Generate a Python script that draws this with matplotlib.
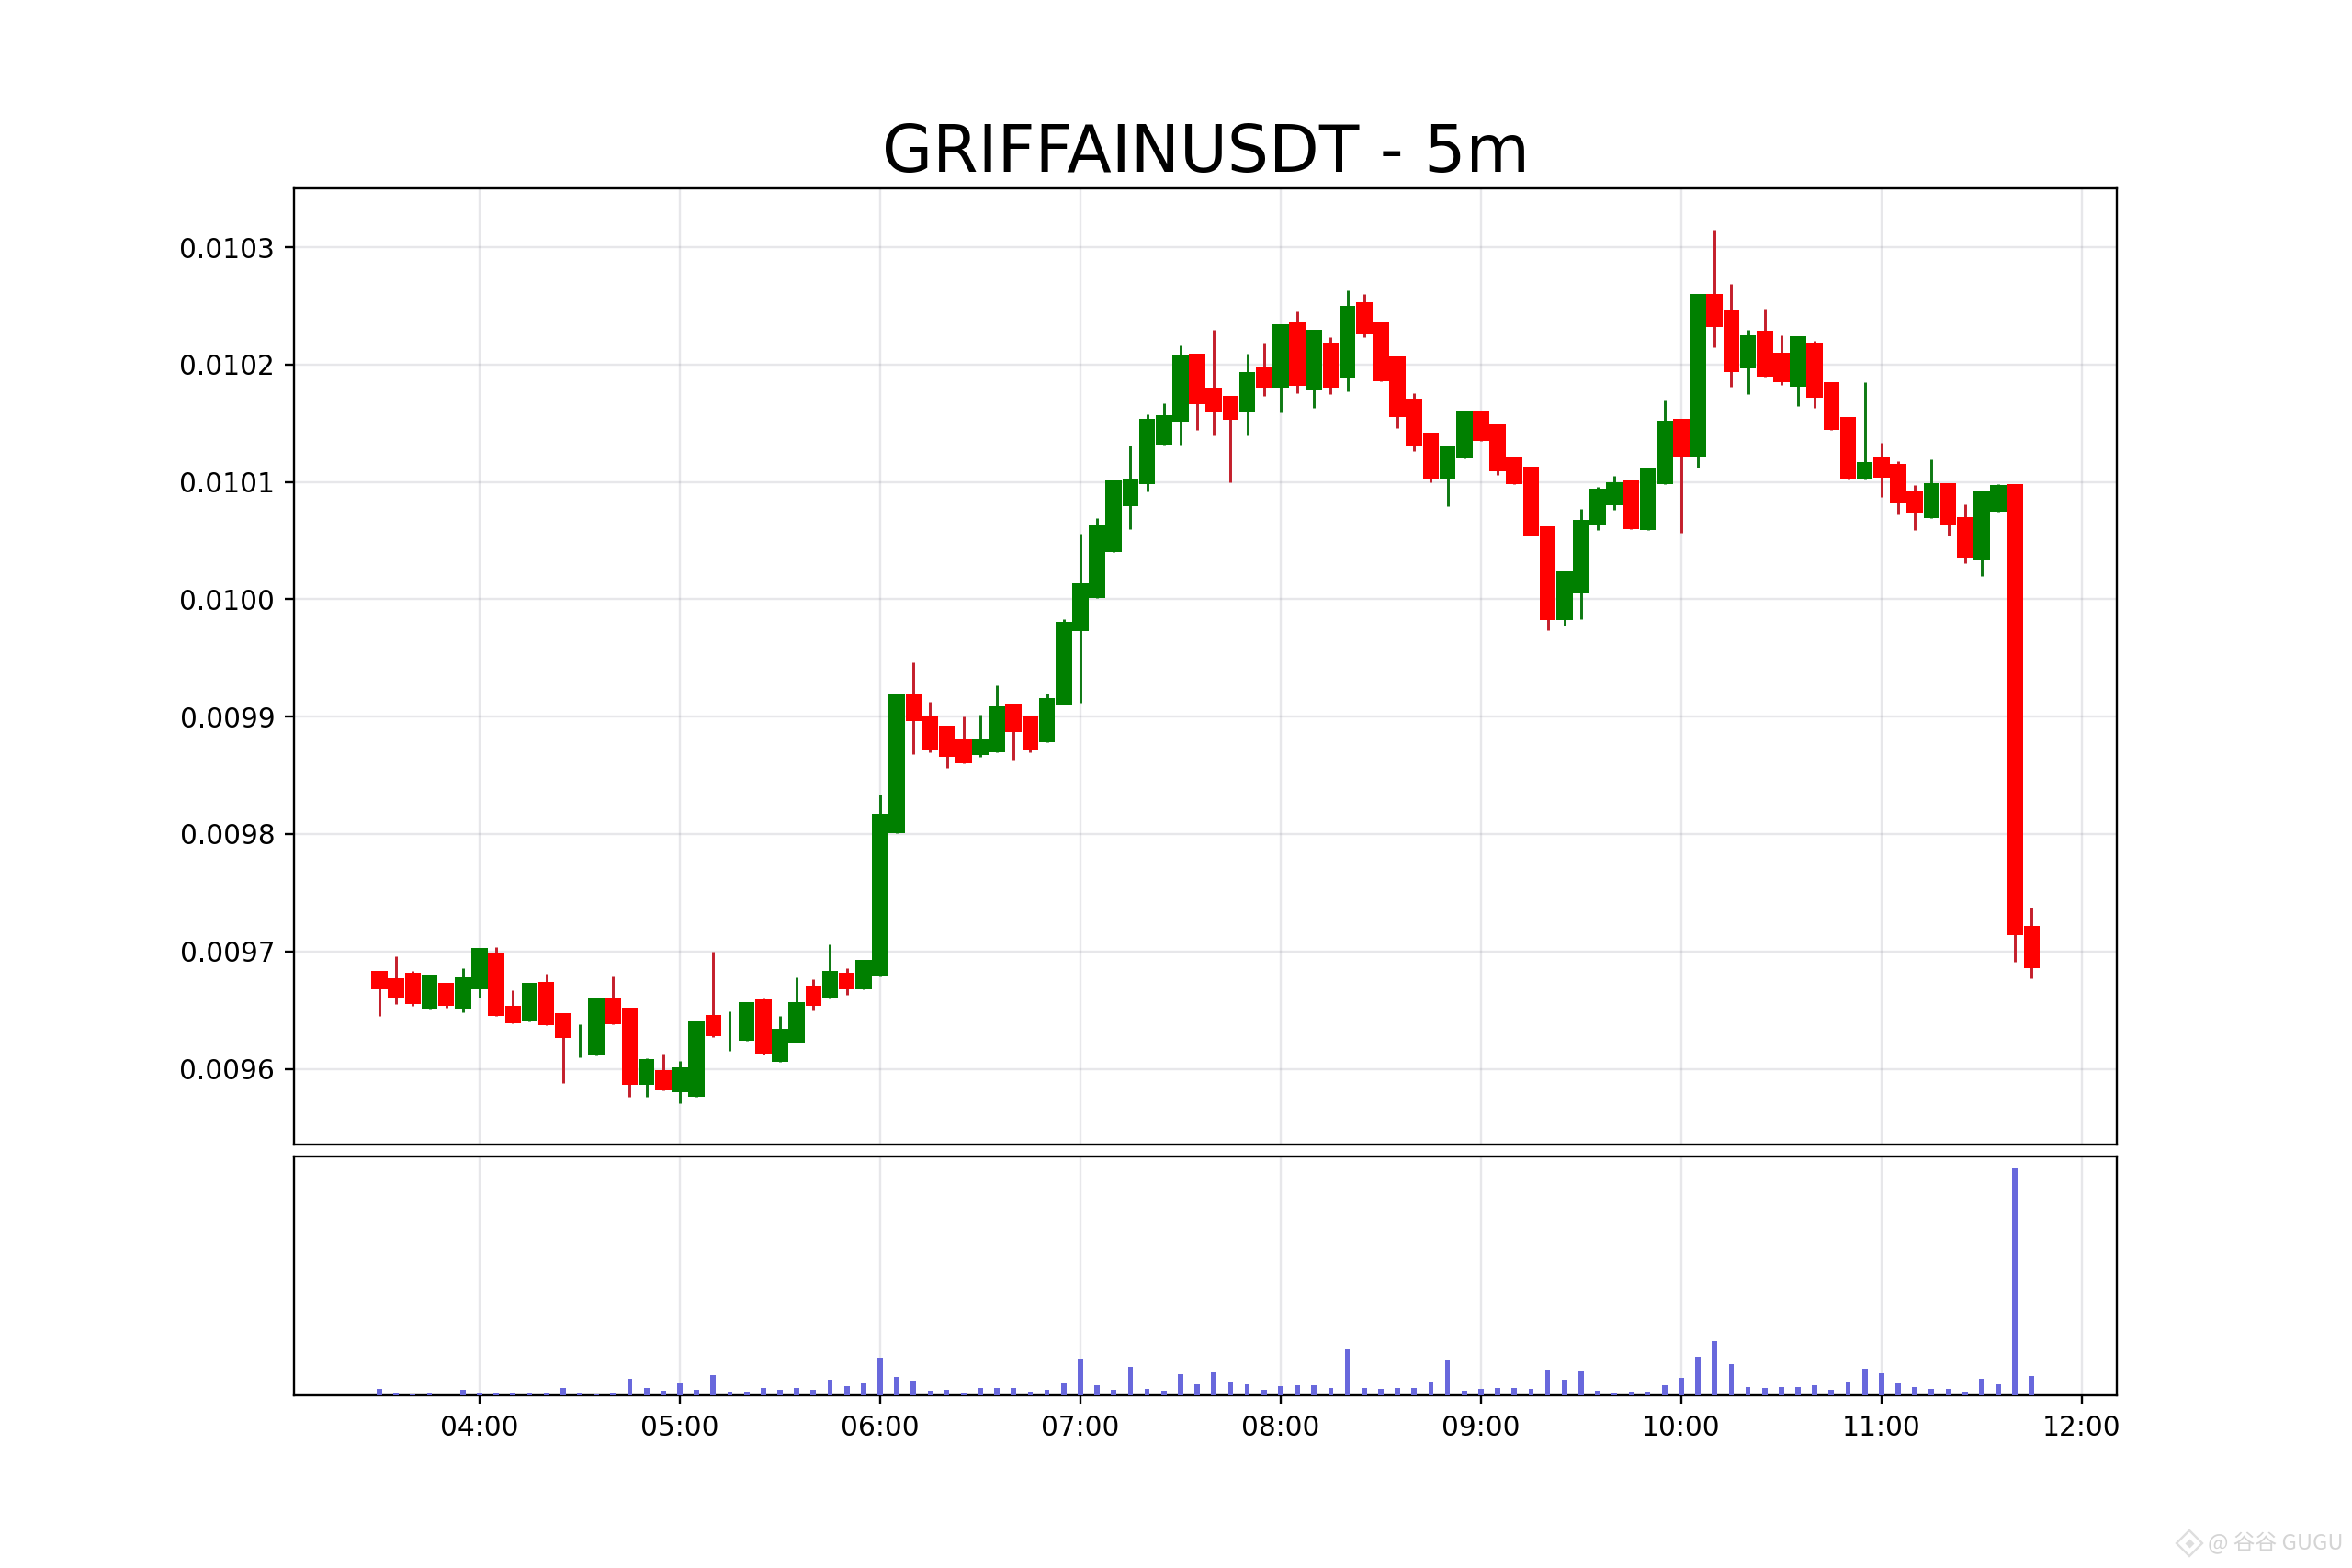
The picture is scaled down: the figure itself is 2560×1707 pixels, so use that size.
import matplotlib
matplotlib.use("Agg")
import matplotlib.pyplot as plt
import matplotlib.dates as mdates
from matplotlib.lines import Line2D
import numpy as np
import pandas as pd

TITLE = "GRIFFAINUSDT - 5m"
WATERMARK = "@ 谷谷 GUGU"

# Prices in units of 1e-6
opens = [9683, 9677, 9682, 9651, 9673, 9651, 9668, 9698, 9654, 9640,
         9674, 9647, 9625, 9611, 9660, 9652, 9586, 9599, 9580, 9576,
         9646, 9632, 9624, 9659, 9606, 9622, 9671, 9660, 9682, 9668,
         9679, 9801, 9919, 9901, 9892, 9881, 9867, 9870, 9911, 9900,
         9878, 9910, 9973, 10001, 10040, 10079, 10098, 10132, 10151, 10209,
         10180, 10173, 10160, 10198, 10180, 10236, 10178, 10219, 10189, 10253,
         10236, 10207, 10171, 10142, 10102, 10120, 10161, 10149, 10122, 10113,
         10062, 9982, 10005, 10064, 10080, 10101, 10059, 10098, 10154, 10122,
         10260, 10246, 10197, 10229, 10210, 10181, 10219, 10185, 10155, 10102,
         10122, 10115, 10093, 10069, 10099, 10070, 10033, 10075, 10098, 9722]
highs = [9683, 9696, 9683, 9680, 9673, 9686, 9703, 9704, 9667, 9673,
         9681, 9647, 9638, 9660, 9679, 9652, 9609, 9613, 9607, 9641,
         9700, 9649, 9657, 9660, 9645, 9678, 9676, 9706, 9686, 9693,
         9834, 9919, 9946, 9913, 9892, 9900, 9902, 9927, 9911, 9900,
         9920, 9983, 10056, 10069, 10101, 10131, 10158, 10167, 10216, 10209,
         10230, 10173, 10209, 10219, 10234, 10245, 10230, 10223, 10263, 10260,
         10236, 10207, 10176, 10142, 10131, 10161, 10161, 10149, 10122, 10113,
         10062, 10024, 10077, 10096, 10105, 10101, 10112, 10169, 10154, 10260,
         10315, 10269, 10230, 10248, 10225, 10224, 10220, 10185, 10155, 10185,
         10133, 10118, 10097, 10119, 10099, 10081, 10093, 10098, 10098, 9737]
lows = [9645, 9655, 9654, 9651, 9652, 9648, 9661, 9645, 9639, 9640,
        9637, 9588, 9610, 9611, 9638, 9576, 9576, 9582, 9571, 9576,
        9627, 9615, 9624, 9612, 9606, 9622, 9650, 9660, 9663, 9668,
        9679, 9801, 9868, 9870, 9856, 9860, 9866, 9870, 9863, 9870,
        9878, 9910, 9912, 10001, 10040, 10060, 10092, 10132, 10132, 10144,
        10140, 10100, 10140, 10173, 10159, 10176, 10163, 10175, 10177, 10223,
        10186, 10146, 10126, 10100, 10079, 10120, 10135, 10106, 10098, 10054,
        9974, 9978, 9983, 10059, 10076, 10060, 10059, 10098, 10057, 10112,
        10215, 10181, 10175, 10190, 10183, 10165, 10163, 10144, 10102, 10102,
        10087, 10072, 10059, 10069, 10054, 10031, 10020, 10075, 9691, 9677]
closes = [9668, 9661, 9655, 9680, 9654, 9678, 9703, 9645, 9639, 9673,
          9637, 9626, 9625, 9660, 9638, 9586, 9608, 9582, 9601, 9641,
          9628, 9632, 9657, 9613, 9634, 9657, 9654, 9683, 9668, 9693,
          9817, 9919, 9896, 9872, 9866, 9860, 9881, 9909, 9887, 9872,
          9916, 9981, 10014, 10063, 10101, 10102, 10154, 10157, 10208, 10166,
          10159, 10153, 10194, 10180, 10234, 10182, 10230, 10180, 10250, 10226,
          10186, 10155, 10131, 10102, 10131, 10161, 10135, 10109, 10098, 10054,
          9982, 10024, 10068, 10094, 10100, 10060, 10112, 10152, 10122, 10260,
          10232, 10194, 10225, 10190, 10185, 10224, 10172, 10144, 10102, 10117,
          10104, 10082, 10074, 10099, 10063, 10035, 10093, 10097, 9714, 9686]
volumes = [22, 7, 3, 7, 2, 18, 10, 10, 10, 9,
           7, 24, 9, 3, 10, 55, 24, 16, 40, 19,
           67, 13, 13, 25, 19, 25, 18, 52, 31, 39,
           124, 61, 48, 16, 18, 10, 24, 24, 24, 13,
           18, 39, 120, 34, 19, 94, 22, 17, 69, 37,
           76, 47, 37, 19, 32, 34, 34, 24, 151, 24,
           22, 24, 25, 43, 115, 17, 22, 25, 25, 22,
           84, 52, 79, 17, 9, 13, 13, 33, 58, 127,
           178, 103, 28, 25, 28, 28, 33, 19, 46, 88,
           73, 39, 28, 22, 22, 13, 54, 37, 745, 63]

times = pd.date_range("2025-01-01 03:30", periods=len(opens), freq="5min")
x = mdates.date2num(times)
o, h, l, c = [np.array(a, dtype=float) * 1e-6 for a in (opens, highs, lows, closes)]
colors = np.where(c >= o, "#008000", "#ff0000")
wick_colors = np.where(c >= o, "#0f7a14", "#c4202c")

dpi = 2560 / 12
fig = plt.figure(figsize=(12, 1707 / dpi), dpi=dpi)
gs = fig.add_gridspec(2, 1, height_ratios=[4, 1], hspace=0.02)
ax = fig.add_subplot(gs[0])
axv = fig.add_subplot(gs[1], sharex=ax)

ax.set_axisbelow(True)
axv.set_axisbelow(True)
ax.vlines(x, l, h, colors=wick_colors, linewidth=1.0, zorder=2)
ax.bar(x, c - o, bottom=o, width=0.00336, color=colors, linewidth=0, zorder=3)
axv.bar(x, volumes, width=0.0011, color="#6868dc", linewidth=0, zorder=3)

ax.grid(True, color="#8a8a98", alpha=0.2, linewidth=0.8)
axv.grid(True, axis="x", color="#8a8a98", alpha=0.2, linewidth=0.8)
ax.set_title(TITLE, fontsize=24, pad=6)
ax.set_ylim(0.0095355, 0.0103503)
ax.yaxis.set_major_locator(plt.MultipleLocator(0.0001))
ax.yaxis.set_major_formatter(plt.FormatStrFormatter("%.4f"))
ax.tick_params(axis="x", labelbottom=False, bottom=False)
axv.set_yticks([])
axv.set_xlim(mdates.date2num(pd.Timestamp("2025-01-01 03:04:24")),
             mdates.date2num(pd.Timestamp("2025-01-01 12:10:30")))
axv.xaxis.set_major_locator(mdates.HourLocator())
axv.xaxis.set_major_formatter(mdates.DateFormatter("%H:%M"))

# Watermark
fig.text(0.9961, 0.0158, WATERMARK, ha="right", va="center", fontsize=8, color="#d4d4d4",
         family=["Noto Sans CJK SC", "DejaVu Sans"])
fig.add_artist(Line2D([0.931], [0.0158], marker="D", markersize=6.5, markerfacecolor="none",
                      markeredgecolor="#dedede", markeredgewidth=0.8, linestyle="none",
                      transform=fig.transFigure))
fig.add_artist(Line2D([0.931], [0.0158], marker="D", markersize=2.2, markerfacecolor="#dedede",
                      markeredgecolor="none", linestyle="none", transform=fig.transFigure))

fig.savefig("out.png", dpi=dpi)
